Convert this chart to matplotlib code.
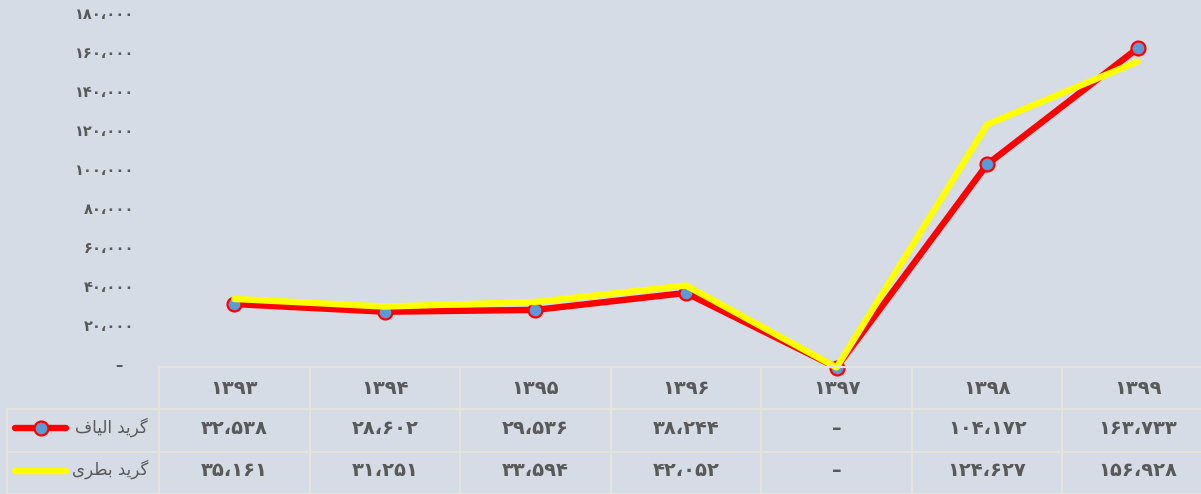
import matplotlib
matplotlib.use("Agg")
import matplotlib.pyplot as plt
from matplotlib.transforms import ScaledTranslation

# data
years = ["1393", "1394", "1395", "1396", "1397", "1398", "1399"]
fiber_grade = [32538, 28602, 29536, 38244, 0, 104172, 163733]
bottle_grade = [35161, 31251, 33594, 42052, 0, 124627, 156928]
series_names = ["گرید الیاف", "گرید بطری"]
y_ticks = [0, 20000, 40000, 60000, 80000, 100000, 120000, 140000, 160000, 180000]

BG = "#d6dce5"
TXT = "#595959"
GRID = "#e4e3de"

PERSIAN = str.maketrans("0123456789,", "۰۱۲۳۴۵۶۷۸۹،")


def fa_num(v):
    if v == 0:
        return "–"
    return f"{v:,}".translate(PERSIAN)


# matplotlib has no arabic shaping, so do it by hand for the letters we need
FORMS = {
    "ا": ("\ufe8d", "\ufe8e", None, None),
    "ب": ("\ufe8f", "\ufe90", "\ufe91", "\ufe92"),
    "د": ("\ufea9", "\ufeaa", None, None),
    "ر": ("\ufead", "\ufeae", None, None),
    "ط": ("\ufec1", "\ufec2", "\ufec3", "\ufec4"),
    "ف": ("\ufed1", "\ufed2", "\ufed3", "\ufed4"),
    "ل": ("\ufedd", "\ufede", "\ufedf", "\ufee0"),
    "ی": ("\ufbfc", "\ufbfd", "\ufbfe", "\ufbff"),
    "گ": ("\ufb92", "\ufb93", "\ufb94", "\ufb95"),
}


def shape(s):
    out = []
    for i, c in enumerate(s):
        if c not in FORMS:
            out.append(c)
            continue
        prev = s[i - 1] if i > 0 else ""
        nxt = s[i + 1] if i + 1 < len(s) else ""
        j_prev = prev in FORMS and FORMS[prev][2] is not None
        j_next = nxt in FORMS and FORMS[c][2] is not None
        iso, fin, ini, med = FORMS[c]
        if j_prev and j_next:
            out.append(med)
        elif j_prev:
            out.append(fin)
        elif j_next:
            out.append(ini)
        else:
            out.append(iso)
    return "".join(reversed(out))


plt.rcParams["font.family"] = ["DejaVu Sans"]

W, H = 1201, 494
fig = plt.figure(figsize=(W / 100, H / 100), dpi=100, facecolor=BG)

# plot area (runs past the right edge like the original)
ax = fig.add_axes([159 / W, 1 - 367.5 / H, 1054 / W, 351 / H])
ax.set_facecolor(BG)
x = list(range(len(years)))

ax.plot(x, fiber_grade, color="#ff0000", lw=4.6, marker="o", ms=10,
        mfc="#5b9bd5", mec="#ff0000", mew=1.6, zorder=3, clip_on=False,
        solid_capstyle="round")
ax.plot(x, bottle_grade, color="#ffff00", lw=4.6, zorder=4, clip_on=False,
        solid_capstyle="round")

ax.set_xlim(-0.5, len(years) - 0.5)
ax.set_ylim(0, 180000)
ax.set_xticks([])
ax.set_yticks(y_ticks)
ax.set_yticklabels([fa_num(v) + ("  " if v == 0 else "") for v in y_ticks],
                   color=TXT, fontsize=10.5, fontweight="bold")
ax.tick_params(axis="y", length=0, pad=18)
lift = ScaledTranslation(0, 3.5 / 100, fig.dpi_scale_trans)
for lab in ax.get_yticklabels():
    lab.set_transform(lab.get_transform() + lift)
for s in ax.spines.values():
    s.set_visible(False)

# data table underneath
tab = fig.add_axes([159 / W, 0, 1054 / W, 127 / H], sharex=ax)
tab.set_facecolor(BG)
tab.set_ylim(3, 0)
tab.axis("off")

col_w = 150.6
lbl_left = -0.5 - 152 / col_w
n = len(years)

tab.plot([-0.5, n - 0.5], [0, 0], color=GRID, lw=1.5, clip_on=False)
for r in (1, 2, 3):
    tab.plot([lbl_left, n - 0.5], [r, r], color=GRID, lw=1.5, clip_on=False)
for c in range(n + 1):
    tab.plot([c - 0.5, c - 0.5], [0, 3], color=GRID, lw=1.5, clip_on=False)
tab.plot([lbl_left, lbl_left], [1, 3], color=GRID, lw=1.5, clip_on=False)

for i, yr in enumerate(years):
    tab.text(i, 0.5, yr.translate(PERSIAN), ha="center", va="center",
             color=TXT, fontsize=14, fontweight="bold")
for r, vals in enumerate([fiber_grade, bottle_grade], start=1):
    for i, v in enumerate(vals):
        tab.text(i, r + 0.45, fa_num(v), ha="center", va="center",
                 color=TXT, fontsize=14, fontweight="bold")

# legend keys in the row headers
k0 = -0.5 - 144 / col_w
k1 = -0.5 - 93 / col_w
km = -0.5 - 118 / col_w
tab.plot([k0, k1], [1.45, 1.45], color="#ff0000", lw=4.6, clip_on=False,
         solid_capstyle="round")
tab.plot([km], [1.45], marker="o", ms=10, mfc="#5b9bd5", mec="#ff0000",
         mew=1.6, clip_on=False)
tab.plot([k0, k1], [2.45, 2.45], color="#ffff00", lw=4.6, clip_on=False,
         solid_capstyle="round")
for r, name in enumerate(series_names, start=1):
    tab.text(-0.5 - 11 / col_w, r + 0.42, shape(name), ha="right",
             va="center", color=TXT, fontsize=12)

fig.savefig("out.png", dpi=100, facecolor=BG)
